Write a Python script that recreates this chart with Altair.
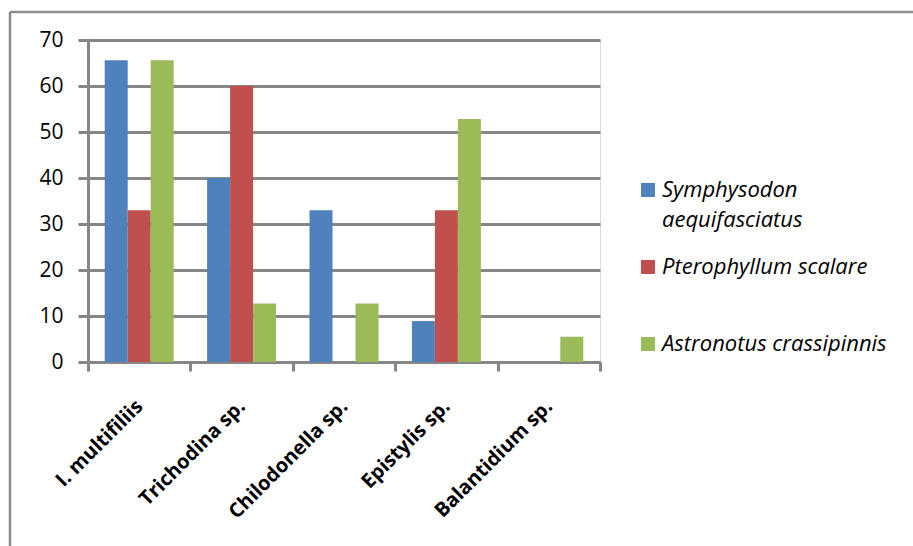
import altair as alt
import pandas as pd

parasites = ["I. multifiliis", "Trichodina sp.", "Chilodonella sp.", "Epistylis sp.", "Balantidium sp."]
species = ["Symphysodon aequifasciatus", "Pterophyllum scalare", "Astronotus crassipinnis"]
symphysodon = [65.6, 40.0, 33.0, 8.9, 0.0]
pterophyllum = [33.0, 60.0, 0.0, 33.0, 0.0]
astronotus = [65.6, 12.7, 12.7, 52.8, 5.5]
colors = ["#4f81bd", "#c0504d", "#9bbb59"]

rows = []
for sp, vals in zip(species, [symphysodon, pterophyllum, astronotus]):
    for p, v in zip(parasites, vals):
        rows.append({"parasite": p, "species": sp, "value": v})
df = pd.DataFrame(rows)

FONT = "Open Sans"
GRID = "#868686"

# every legend label is two lines tall so the rows are evenly spaced
legend_expr = (
    "datum.label == 'Symphysodon aequifasciatus' ? ['Symphysodon', 'aequifasciatus'] : [datum.label, ' ']"
)

bars = alt.Chart(df).mark_bar().encode(
    x=alt.X(
        "parasite:N",
        sort=parasites,
        title=None,
        scale=alt.Scale(paddingInner=0, paddingOuter=0),
        axis=alt.Axis(
            labelAngle=-45,
            labelAlign="right",
            labelBaseline="middle",
            labelFont=FONT,
            labelFontSize=20,
            labelFontWeight="bold",
            labelColor="#000000",
            labelPadding=32,
            domainColor=GRID,
            domainWidth=3,
            tickColor=GRID,
            tickWidth=3,
            tickSize=9,
            tickBand="extent",
            grid=False,
        ),
    ),
    xOffset=alt.XOffset(
        "species:N", sort=species, scale=alt.Scale(paddingInner=0, paddingOuter=0.726)
    ),
    y=alt.Y(
        "value:Q",
        title=None,
        scale=alt.Scale(domain=[0, 70], nice=False),
        axis=alt.Axis(
            values=list(range(0, 71, 10)),
            labelFont=FONT,
            labelFontSize=21,
            labelColor="#000000",
            labelPadding=15,
            domainColor=GRID,
            domainWidth=3,
            tickColor=GRID,
            tickWidth=3,
            tickSize=10,
            gridColor=GRID,
            gridWidth=3,
        ),
    ),
    color=alt.Color(
        "species:N",
        sort=species,
        scale=alt.Scale(domain=species, range=colors),
        legend=alt.Legend(
            title=None,
            orient="none",
            legendX=549,
            legendY=139,
            symbolType="square",
            symbolSize=196,
            symbolStrokeWidth=0,
            labelFont=FONT,
            labelFontSize=22,
            labelFontStyle="italic",
            labelColor="#000000",
            labelLimit=400,
            labelOffset=3,
            labelBaseline="middle",
            rowPadding=25,
            labelExpr=legend_expr,
        ),
    ),
)

# frame lines along the top and left edges of the chart
frame_top = alt.Chart(pd.DataFrame({"k": [0]})).mark_rule(color="#8c8c8c", strokeWidth=2.5).encode(
    x=alt.value(-78), x2=alt.value(830), y=alt.value(-28)
)
frame_left = alt.Chart(pd.DataFrame({"k": [0]})).mark_rule(color="#8c8c8c", strokeWidth=2.5).encode(
    x=alt.value(-78), y=alt.value(-28), y2=alt.value(520)
)

chart = alt.layer(bars, frame_top, frame_left).properties(
    width=512,
    height=322,
    autosize=alt.AutoSizeParams(type="none"),
    padding={"left": 88, "top": 40, "right": 313, "bottom": 184},
).configure_view(stroke=None).configure(
    background="white", style={"guide-label": {"lineHeight": 30}}
)

chart.save("out.html", embed_options={"renderer": "svg", "actions": False})
